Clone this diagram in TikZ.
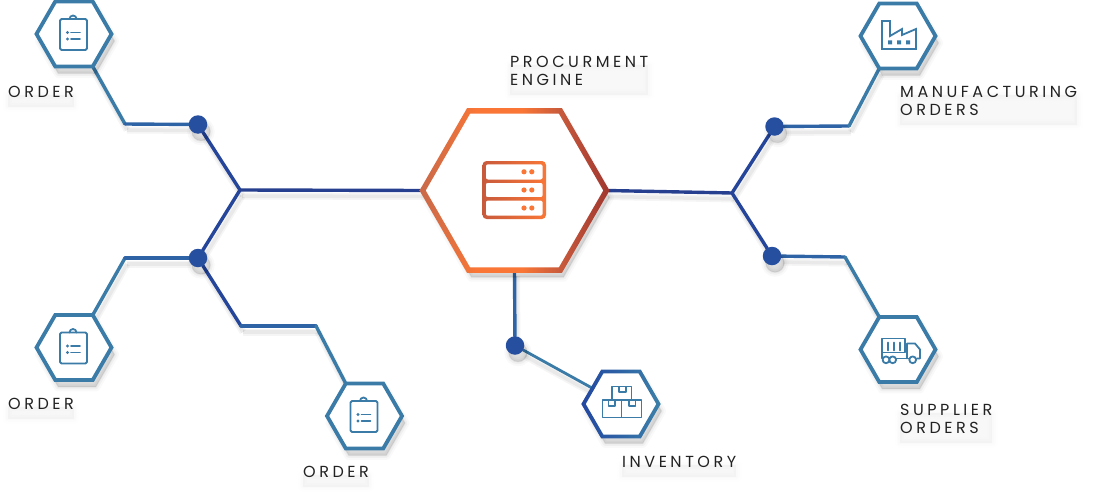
\documentclass[tikz,border=0pt]{standalone}
\usepackage{fontspec}
\usetikzlibrary{shapes.geometric,calc,backgrounds}
\setmainfont[LetterSpace=22]{Poppins}
\definecolor{steel}{HTML}{3A7BA8}
\definecolor{midb}{HTML}{2E64A6}
\definecolor{deepb}{HTML}{24459A}
\definecolor{navy}{HTML}{263F8E}
\definecolor{dotb}{HTML}{264FA0}
\definecolor{txt}{HTML}{222222}
\definecolor{ora}{HTML}{F97636}
\definecolor{rust}{HTML}{C85A3C}
\definecolor{tan}{HTML}{C8694A}
\definecolor{brick}{HTML}{A0362F}
\definecolor{invA}{HTML}{2347A0}
\definecolor{invC}{HTML}{3C80A8}
\pgfdeclarehorizontalshading{engshade}{100bp}{color(0bp)=(tan);color(25bp)=(tan);color(40bp)=(ora);color(52bp)=(ora);color(62bp)=(rust);color(75bp)=(brick);color(100bp)=(brick)}
\pgfdeclarehorizontalshading{invshade}{100bp}{color(0bp)=(invA);color(25bp)=(invA);color(50bp)=(midb);color(75bp)=(invC);color(100bp)=(invC)}
\newcommand\hexring[2]{([shift={(0:#2)}]#1.center) -- ([shift={(60:#2)}]#1.center) -- ([shift={(120:#2)}]#1.center) -- ([shift={(180:#2)}]#1.center) -- ([shift={(240:#2)}]#1.center) -- ([shift={(300:#2)}]#1.center) -- cycle}
\tikzset{
  softfill/.style={
    preaction={draw=black,fill=black,draw opacity=.025,fill opacity=.04,line width=9pt,line join=round,transform canvas={shift={(3pt,-7pt)}}},
    preaction={draw=black,fill=black,draw opacity=.035,fill opacity=.04,line width=5pt,line join=round,transform canvas={shift={(3pt,-7pt)}}},
    preaction={draw=black,fill=black,draw opacity=.05,fill opacity=.05,line width=1.5pt,line join=round,transform canvas={shift={(3pt,-7pt)}}}},
  softtext/.style={
    preaction={fill=black,draw=black,draw opacity=.005,fill opacity=.005,line width=11pt,line join=round,transform canvas={shift={(0pt,-9pt)}}},
    preaction={fill=black,draw=black,draw opacity=.007,fill opacity=.007,line width=7pt,line join=round,transform canvas={shift={(0pt,-9pt)}}},
    preaction={fill=black,draw=black,draw opacity=.008,fill opacity=.008,line width=3.5pt,line join=round,transform canvas={shift={(0pt,-9pt)}}},
    preaction={fill=black,fill opacity=.008,transform canvas={shift={(0pt,-9pt)}}}},
  hexn/.style={regular polygon,regular polygon sides=6,minimum size=75pt,inner sep=0pt,outer sep=0pt,fill=white,draw=steel,line width=3.8pt,line join=miter,softfill},
  dotn/.style={circle,minimum size=18.5pt,inner sep=0pt,outer sep=0pt,fill=dotb,softfill},
  lab/.style={anchor=west,align=left,text=txt,font=\fontsize{16}{18}\selectfont,inner sep=0pt,softtext},
  conn/.style={line width=3.4pt,line cap=round,
    preaction={draw=black,draw opacity=.04,line width=7pt,transform canvas={shift={(2pt,-6pt)}}},
    preaction={draw=black,draw opacity=.05,line width=3.5pt,transform canvas={shift={(2pt,-6pt)}}}},
  icon/.style={draw=steel,line width=1.8pt,line join=round,line cap=round,fill=none},
  pics/clipicon/.style={code={
    \draw[icon,rounded corners=1.5pt] (-14,-15) rectangle (13,16);
    \draw[icon] (-4.5,-15) arc[start angle=180,end angle=360,radius=3.5];
    \fill[steel] (-6.5,-1.5) circle (1.7pt) (-6.5,5) circle (1.7pt);
    \draw[icon] (-3,-1.5) -- (6,-1.5) (-3,5) -- (6,5);
  }},
  pics/factoryicon/.style={code={
    \draw[icon,line join=miter] (-16,-15) -- (-8,-15) -- (-8,0) -- (4,-7) -- (4,-1) -- (18,-7) -- (18,13) -- (-16,13) -- cycle;
    \fill[steel] (-10,4.5) rectangle +(4,4) (-1,4.5) rectangle +(4,4) (8,4.5) rectangle +(4,4);
  }},
  pics/truckicon/.style={code={
    \draw[icon] (-16,-11) rectangle (7,3);
    \draw[icon] (-10,-7) -- (-10,1) (-4,-7) -- (-4,1) (2,-7) -- (2,1);
    \draw[icon,line join=round] (9,9) -- (9,-6) -- (17,-6) -- (22,0) -- (22,9) -- (19,9);
    \draw[icon] (-15,9) -- (-16,9) -- (-16,3) (-2,9) -- (11,9);
    \draw[icon] (-12,10.3) circle (3.4pt) (-5.3,10.3) circle (3.4pt) (14.7,10.3) circle (3.4pt);
  }},
  pics/boxesicon/.style={code={
    \draw[icon,line cap=butt] (-9,-17.5) rectangle (10.5,-4) (-18.5,-4) rectangle (0.5,13.5) (0.5,-4) rectangle (20.5,13.5);
    \draw[icon,line cap=butt] (-2,-17.5) -- (-2,-12) -- (5,-12) -- (5,-17.5);
    \draw[icon,line cap=butt] (-12.5,-4) -- (-12.5,2) -- (-6,2) -- (-6,-4);
    \draw[icon,line cap=butt] (8,-4) -- (8,2) -- (14.5,2) -- (14.5,-4);
  }},
}
\begin{document}
\begin{tikzpicture}[x=1pt,y=-1pt]
\useasboundingbox (0,0) rectangle (1102,495);
% connector bends
\coordinate (hubL) at (240,190);
\coordinate (hubR) at (732,193);
\coordinate (b1) at (125,124);
\coordinate (b2) at (125,258);
\coordinate (b3a) at (241,326);
\coordinate (b3b) at (316,326);
\coordinate (b5) at (849,126);
\coordinate (b6) at (845,257);
% dots
\node[dotn] (dotA) at (198,124.5) {};
\node[dotn] (dotB) at (198,258) {};
\node[dotn] (dotC) at (774.5,126.5) {};
\node[dotn] (dotD) at (772,256) {};
\node[dotn] (dotE) at (515,345.5) {};
% small hexagons
\node[hexn] (hexA) at (74,34) {};
\node[hexn] (hexB) at (74,347.5) {};
\node[hexn] (hexC) at (364.5,416) {};
\node[hexn,draw=none] (hexD) at (621,404) {};
\node[hexn] (hexE) at (898,36) {};
\node[hexn] (hexF) at (898,349.5) {};
\shade[shading=invshade,even odd rule] \hexring{hexD}{39.7} \hexring{hexD}{35.3};
% engine
\node[regular polygon,regular polygon sides=6,minimum size=184pt,inner sep=0pt,outer sep=0pt,fill=white,softfill] (engine) at (514.5,190.5) {};
\shade[shading=engshade,even odd rule] \hexring{engine}{95} \hexring{engine}{88.8};
% connectors
\begin{pgfonlayer}{background}
\draw[conn,steel] (hexA.corner 5) -- (b1);
\draw[conn,midb] (b1) -- (dotA);
\draw[conn,deepb] (dotA) -- (hubL);
\draw[conn,steel] (hexB.corner 1) -- (b2);
\draw[conn,midb] (b2) -- (dotB);
\draw[conn,deepb] (dotB) -- (hubL);
\draw[conn,deepb] (dotB) -- (b3a);
\draw[conn,midb] (b3a) -- (b3b);
\draw[conn,steel] (b3b) -- (hexC.corner 2);
\draw[conn,navy] (hubL) -- (engine.corner 3);
\draw[conn,navy] (engine.corner 6) -- (hubR);
\draw[conn,deepb] (hubR) -- (dotC);
\draw[conn,midb] (dotC) -- (b5);
\draw[conn,steel] (b5) -- (hexE.corner 4);
\draw[conn,deepb] (hubR) -- (dotD);
\draw[conn,midb] (dotD) -- (b6);
\draw[conn,steel] (b6) -- (hexF.corner 2);
\draw[conn,midb] (engine.south) -- (dotE);
\draw[conn,steel,line width=2.8pt] (dotE) -- (hexD);
\end{pgfonlayer}
% icons
\pic at (hexA.center) {clipicon};
\pic at (hexB.center) {clipicon};
\pic at (hexC.center) {clipicon};
\pic at (hexD.center) {boxesicon};
\pic at (hexE.center) {factoryicon};
\pic at (hexF.center) {truckicon};
\shade[left color=rust,right color=ora,even odd rule]
  {[rounded corners=4pt] (482.5,161) rectangle (546,219)}
  {[rounded corners=2pt] (485.8,164.3) rectangle (542.7,179.5)}
  {[rounded corners=2pt] (485.8,182.8) rectangle (542.7,197.2)}
  {[rounded corners=2pt] (485.8,200.5) rectangle (542.7,215.7)};
\fill[ora] (524,171.8) circle (2.6pt) (531.8,171.8) circle (2.6pt)
           (524,190) circle (2.6pt) (531.8,190) circle (2.6pt)
           (524,208) circle (2.6pt) (531.8,208) circle (2.6pt);
% labels
\node[lab] (l1) at (8,92) {ORDER};
\node[lab] (l2) at (8,404) {ORDER};
\node[lab] (l3) at (303,472) {ORDER};
\node[lab] (l4) at (510,71) {PROCURMENT\\ENGINE};
\node[lab] (l5) at (622,462) {INVENTORY};
\node[lab] (l6) at (900,101) {MANUFACTURING\\ORDERS};
\node[lab] (l7) at (900,419) {SUPPLIER\\ORDERS};
\end{tikzpicture}
\end{document}
